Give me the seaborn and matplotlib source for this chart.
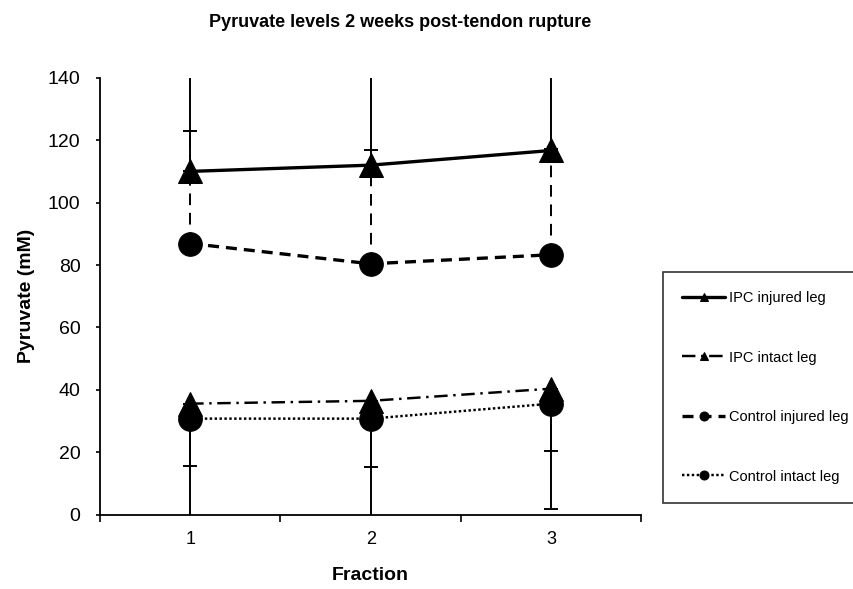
import numpy as np
import pandas as pd
import seaborn as sns
import matplotlib.pyplot as plt

# values
fractions = [1, 2, 3]
series = ['IPC injured leg', 'IPC intact leg', 'Control injured leg', 'Control intact leg']
ipc_injured = [110.0, 112.0, 116.7]
ipc_intact = [35.6, 36.5, 40.4]
ctrl_injured = [86.9, 80.4, 83.3]
ctrl_intact = [30.8, 30.8, 35.6]

# one-sided error bars (upper series go up, lower series go down)
ipc_injured_err = [45.0, 40.0, 35.0]
ipc_intact_err = [40.0, 42.0, 38.4]
ctrl_injured_err = [35.9, 36.4, 34.0]
ctrl_intact_err = [15.1, 15.6, 15.3]

sns.set_theme(style='white')
plt.rcParams['font.family'] = ['Liberation Sans', 'DejaVu Sans']
plt.rcParams['text.color'] = 'black'
plt.rcParams['axes.labelcolor'] = 'black'
plt.rcParams['xtick.color'] = 'black'
plt.rcParams['ytick.color'] = 'black'

rows = []
for name, vals in zip(series, [ipc_injured, ipc_intact, ctrl_injured, ctrl_intact]):
    for f, v in zip(fractions, vals):
        rows.append({'Fraction': f, 'Pyruvate': v, 'series': name})
df = pd.DataFrame(rows)

fig = plt.figure(figsize=(8.54, 5.89), dpi=100)
ax = fig.add_axes([0.117, 0.126, 0.634, 0.742])

# error bars first so markers sit on top
errs = [
    (ipc_injured, ipc_injured_err, 'up', '-'),
    (ctrl_injured, ctrl_injured_err, 'up', (0, (6, 4))),
    (ipc_intact, ipc_intact_err, 'down', '-'),
    (ctrl_intact, ctrl_intact_err, 'down', '-'),
]
for vals, err, direction, ls in errs:
    e = np.array(err)
    yerr = [np.zeros_like(e), e] if direction == 'up' else [e, np.zeros_like(e)]
    eb = ax.errorbar(fractions, vals, yerr=yerr, fmt='none', ecolor='black',
                     elinewidth=1.4, capsize=5, capthick=1.4, zorder=1)
    eb[2][0].set_linestyle(ls)

markers = {'IPC injured leg': '^', 'IPC intact leg': '^',
           'Control injured leg': 'o', 'Control intact leg': 'o'}
styles = {'IPC injured leg': '-', 'IPC intact leg': (0, (5.5, 2.3, 1, 2.3)),
          'Control injured leg': (0, (3.3, 2.1)), 'Control intact leg': (0, (1, 1))}
widths = {'IPC injured leg': 3.0, 'IPC intact leg': 2.2,
          'Control injured leg': 3.0, 'Control intact leg': 2.2}

for name in series:
    sub = df[df['series'] == name]
    sns.lineplot(data=sub, x='Fraction', y='Pyruvate', marker=markers[name],
                 linestyle=styles[name], linewidth=widths[name], color='black',
                 markersize=17, markeredgecolor='black', label=name, ax=ax, zorder=3)

ax.set_xlim(0.5, 3.5)
ax.set_ylim(0, 140)
ax.set_yticks(np.arange(0, 141, 20))
ax.set_xticks([0.5, 1.5, 2.5, 3.5])
ax.set_xticklabels([])
ax.set_xticks(fractions, minor=True)
ax.set_xticklabels([str(f) for f in fractions], minor=True)
ax.tick_params(axis='x', which='minor', length=0, labelsize=13, pad=12)
ax.tick_params(axis='x', which='major', length=5, width=1.2, direction='out', bottom=True)
ax.tick_params(axis='y', length=3, width=1.2, direction='out', left=True, labelsize=14, pad=11)
sns.despine(ax=ax)
for s in ['left', 'bottom']:
    ax.spines[s].set_color('black')
    ax.spines[s].set_linewidth(1.3)

ax.set_xlabel('Fraction', fontsize=14, fontweight='bold', labelpad=13)
ax.set_ylabel('Pyruvate (mM)', fontsize=14, fontweight='bold', labelpad=9)
fig.text(0.469, 0.962, 'Pyruvate levels 2 weeks post-tendon rupture',
         ha='center', va='center', fontsize=13, fontweight='bold')

handles, labels = ax.get_legend_handles_labels()
ax.get_legend().remove()
for h, name in zip(handles, labels):
    h.set_linewidth(widths[name] * 0.8)
leg = fig.legend(handles, labels, loc='upper left', bbox_to_anchor=(0.776, 0.538),
                 borderaxespad=0, frameon=True, fontsize=10.5, markerscale=0.38,
                 handlelength=3.0, labelspacing=3.12, borderpad=1.3,
                 handletextpad=0.25, fancybox=False)
leg.get_frame().set_edgecolor('black')
leg.get_frame().set_linewidth(1.2)

fig.savefig('out.png', dpi=100)
